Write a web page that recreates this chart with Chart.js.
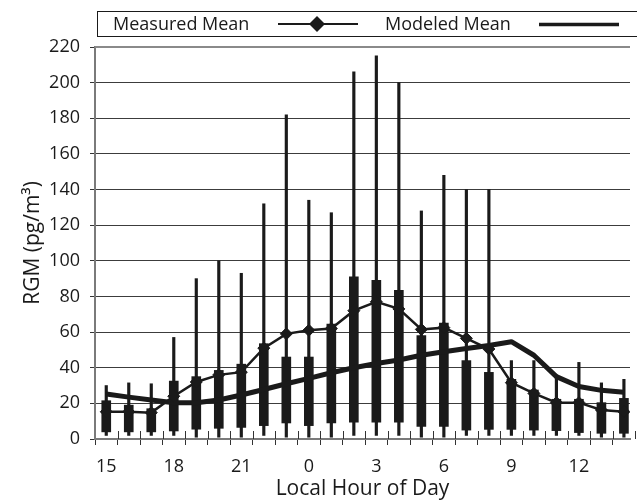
<!DOCTYPE html>
<html>
<head>
<meta charset="utf-8">
<title>RGM diurnal cycle</title>
<script src="https://cdn.jsdelivr.net/npm/chart.js@4.4.0/dist/chart.umd.min.js"></script>
<style>
    html, body { margin: 0; padding: 0; background: #fff; overflow: hidden; }
    #wrap { width: 637px; height: 502px; }
</style>
</head>
<body>
<div id="wrap"><canvas id="rgm-chart"></canvas></div>
<script>
// Horas locales (el eje empieza a las 15 h)
const hours = [15, 16, 17, 18, 19, 20, 21, 22, 23, 0, 1, 2, 3, 4, 5, 6, 7, 8, 9, 10, 11, 12, 13, 14];
const hourTicks = [15, 18, 21, 0, 3, 6, 9, 12];

// Bigotes (min - max) y cajas
const whiskerMin = [2, 2, 2, 2, 1, 1, 1, 2, 1, 1, 1, 2, 2, 2, 1, 1, 2, 2, 2, 2, 2, 2, 1, 1];
const whiskerMax = [30, 31.5, 31, 57, 90, 100, 93, 132, 182, 134, 127, 206, 215, 200, 128, 148, 140, 140, 44, 44, 36, 43, 31.5, 33.5];
const boxLow = [4, 4, 4, 4.5, 5.5, 6, 6.5, 7.5, 9, 7.5, 9, 9.5, 9.5, 9.5, 7, 7, 5, 5.4, 5.4, 5, 4.7, 3.6, 3.2, 3.2];
const boxHigh = [21.5, 19, 17, 32.5, 35, 38.5, 42, 53.5, 46, 46, 64.5, 91, 89, 83.5, 58, 65, 44, 37.4, 33.5, 27.5, 22.3, 22.3, 20.4, 22.8];

// Medias
const measuredMean = [15.3, 15.3, 14.8, 24, 32, 36, 37.5, 51, 59, 61, 62, 72, 77, 73, 61.5, 62.5, 56.5, 50.5, 31.6, 25.6, 20.4, 20.4, 16.3, 15.3];
const modeledMean = [25.2, 23.5, 21.9, 20.4, 20.3, 21.9, 24.7, 27.8, 31, 34, 37.2, 40, 42.4, 44.3, 47, 49, 50.8, 52.5, 54.6, 47, 35, 29.5, 27.3, 26.2];

const FONT = '"Open Sans", "DejaVu Sans", sans-serif';
const INK = '#1a1a1a';

const toPoints = (arr) => arr.map((v, i) => ({ x: i, y: v }));
const toRanges = (lo, hi) => lo.map((v, i) => ({ x: i, y: [v, hi[i]] }));

// Leyenda en caja, ticks del eje x que cruzan la linea y borde superior
const framePlugin = {
    id: 'frame',
    afterDraw(chart) {
        const { ctx, chartArea: area, scales } = chart;
        ctx.save();

        // borde superior
        ctx.strokeStyle = '#8a8a8a';
        ctx.lineWidth = 2;
        ctx.beginPath();
        ctx.moveTo(area.left, area.top);
        ctx.lineTo(area.right, area.top);
        ctx.stroke();

        // parte interior de los ticks del eje x
        ctx.strokeStyle = '#333';
        ctx.lineWidth = 1;
        for (let i = 0; i < hours.length; i++) {
            const x = Math.round(scales.x.getPixelForValue(i + 0.5)) + 0.5;
            ctx.beginPath();
            ctx.moveTo(x, area.bottom - 8);
            ctx.lineTo(x, area.bottom);
            ctx.stroke();
        }

        // leyenda
        ctx.strokeStyle = INK;
        ctx.lineWidth = 1;
        ctx.strokeRect(97.5, 11.5, 560, 25);
        ctx.fillStyle = INK;
        ctx.font = `18px ${FONT}`;
        ctx.textBaseline = 'alphabetic';
        ctx.fillText('Measured Mean', 113, 30);
        ctx.fillText('Modeled Mean', 385, 30);

        ctx.lineWidth = 2;
        ctx.beginPath();
        ctx.moveTo(278, 24);
        ctx.lineTo(358, 24);
        ctx.stroke();
        ctx.beginPath();
        ctx.moveTo(317, 16);
        ctx.lineTo(325, 24);
        ctx.lineTo(317, 32);
        ctx.lineTo(309, 24);
        ctx.closePath();
        ctx.fill();

        ctx.lineWidth = 3.5;
        ctx.beginPath();
        ctx.moveTo(539, 24.5);
        ctx.lineTo(619, 24.5);
        ctx.stroke();

        ctx.restore();
    }
};

new Chart(document.getElementById('rgm-chart').getContext('2d'), {
    type: 'bar',
    data: {
        datasets: [
            {
                type: 'line',
                label: 'Measured Mean',
                data: toPoints(measuredMean),
                borderColor: INK,
                borderWidth: 2.5,
                pointStyle: 'rectRot',
                pointRadius: 6,
                pointBorderWidth: 1,
                pointBackgroundColor: INK,
                pointBorderColor: INK,
                tension: 0,
                order: 0
            },
            {
                type: 'line',
                label: 'Modeled Mean',
                data: toPoints(modeledMean),
                borderColor: INK,
                borderWidth: 5,
                pointRadius: 0,
                tension: 0,
                borderJoinStyle: 'round',
                order: 1
            },
            {
                label: 'Caja',
                data: toRanges(boxLow, boxHigh),
                backgroundColor: INK,
                barThickness: 9,
                grouped: false,
                order: 2
            },
            {
                label: 'Bigote',
                data: toRanges(whiskerMin, whiskerMax),
                backgroundColor: INK,
                barThickness: 2.5,
                grouped: false,
                order: 3
            }
        ]
    },
    options: {
        responsive: true,
        maintainAspectRatio: false,
        animation: false,
        devicePixelRatio: 1,
        layout: { padding: { top: 47, right: 0, left: 0, bottom: 0 } },
        plugins: {
            legend: { display: false },
            tooltip: { enabled: false }
        },
        scales: {
            x: {
                type: 'linear',
                min: -0.5,
                max: 23.27,
                offset: false,
                afterBuildTicks: (scale) => {
                    const ticks = [];
                    for (let v = -0.5; v <= 23; v += 0.5) ticks.push({ value: v });
                    scale.ticks = ticks;
                },
                afterFit: (scale) => { scale.height = 63; },
                border: { display: true, color: '#7a7a7a', width: 2 },
                grid: {
                    offset: false,
                    drawOnChartArea: false,
                    drawTicks: true,
                    tickLength: 6,
                    tickColor: (ctx) => (ctx.tick && ctx.tick.value % 1 !== 0) ? '#333' : 'rgba(0,0,0,0)'
                },
                ticks: {
                    autoSkip: false,
                    maxRotation: 0,
                    padding: 11,
                    color: INK,
                    font: { family: FONT, size: 18 },
                    callback: (value) => {
                        if (!Number.isInteger(value)) return '';
                        const h = hours[value];
                        return hourTicks.includes(h) && value % 3 === 0 ? String(h) : '';
                    }
                },
                title: {
                    display: true,
                    text: 'Local Hour of Day',
                    color: INK,
                    font: { family: FONT, size: 21 },
                    padding: { top: 0, bottom: 0 }
                }
            },
            y: {
                min: 0,
                max: 220,
                afterFit: (scale) => { scale.width = 95; },
                border: { display: true, color: '#7a7a7a', width: 2 },
                grid: {
                    color: '#3c3c3c',
                    lineWidth: 1,
                    tickLength: 5,
                    tickColor: '#333'
                },
                ticks: {
                    stepSize: 20,
                    padding: 10,
                    color: INK,
                    font: { family: FONT, size: 18 }
                },
                title: {
                    display: true,
                    text: 'RGM (pg/m³)',
                    color: INK,
                    font: { family: FONT, size: 21 },
                    padding: { top: 20, bottom: 0 }
                }
            }
        }
    },
    plugins: [framePlugin]
});
</script>
</body>
</html>
